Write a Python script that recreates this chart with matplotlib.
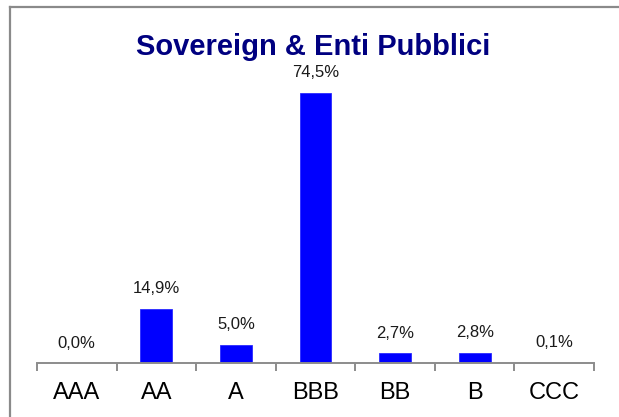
import matplotlib
matplotlib.use("Agg")
import matplotlib.pyplot as plt
from matplotlib.lines import Line2D

categories = ["AAA", "AA", "A", "BBB", "BB", "B", "CCC"]
values = [0.0, 14.9, 5.0, 74.5, 2.7, 2.8, 0.1]
title = "Sovereign & Enti Pubblici"

plt.rcParams["font.family"] = ["Liberation Sans", "DejaVu Sans"]

W, H = 619, 417
fig = plt.figure(figsize=(W / 100, H / 100), dpi=100)

# plot area placed in pixel terms
left, right, axis_y, top_y = 37, 594, 363, 73
ax = fig.add_axes([left / W, 1 - axis_y / H, (right - left) / W, (axis_y - top_y) / H])

x = range(len(categories))
ax.bar(x, values, width=0.4, color="#0000ff", edgecolor="#2a2aff", linewidth=0.6)

for xi, v in zip(x, values):
    ax.annotate(f"{v:.1f}".replace(".", ",") + "%", (xi, v), xytext=(0, 9),
                textcoords="offset points", ha="center", va="bottom",
                fontsize=12, color="#1a1a1a")

ax.set_xlim(-0.5, len(categories) - 0.5)
ax.set_ylim(0, 80)
ax.set_yticks([])
for s in ["top", "right", "left"]:
    ax.spines[s].set_visible(False)
ax.spines["bottom"].set_color("#8c8c8c")
ax.spines["bottom"].set_linewidth(1.4)

# ticks between categories, labels centered
ax.set_xticks([i - 0.5 for i in range(len(categories) + 1)])
ax.set_xticklabels([])
ax.set_xticks(list(x), minor=True)
ax.set_xticklabels(categories, minor=True, fontsize=17)
ax.tick_params(axis="x", which="major", length=5.5, width=1.4, color="#8c8c8c")
ax.tick_params(axis="x", which="minor", length=0, pad=14)

fig.text(313 / W, 1 - 47 / H, title, ha="center", va="center",
         fontsize=21, fontweight="bold", color="#000080")

# outer frame (top and left edges visible)
fig.add_artist(Line2D([10 / W, 1], [1 - 7 / H, 1 - 7 / H], color="#8a8a8a", lw=1.6,
                      transform=fig.transFigure))
fig.add_artist(Line2D([10 / W, 10 / W], [0, 1 - 7 / H], color="#8a8a8a", lw=1.6,
                      transform=fig.transFigure))

fig.savefig("out.png", dpi=100)
